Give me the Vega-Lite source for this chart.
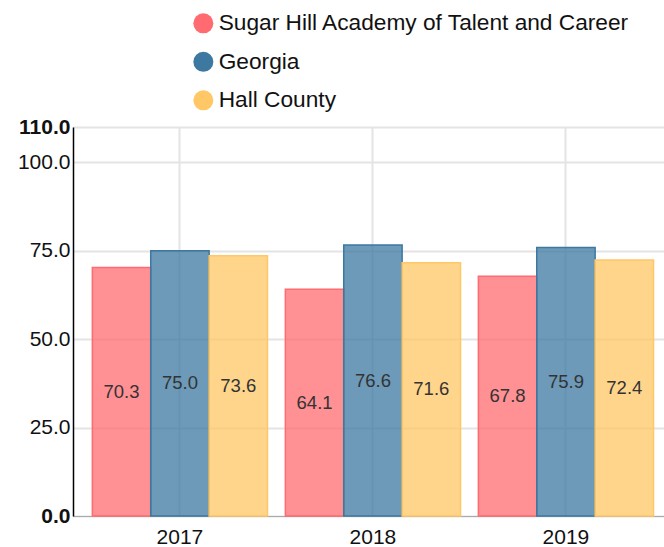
{
  "$schema": "https://vega.github.io/schema/vega-lite/v6.json",
  "width": 591,
  "height": 389,
  "autosize": {"type": "none"},
  "padding": {"left": 73, "top": 127, "right": 0, "bottom": 31},
  "config": {
    "font": "Liberation Sans",
    "view": {"stroke": null}
  },
  "data": {
    "values": [
      {"year": "2017", "group": "Sugar Hill Academy of Talent and Career", "value": 70.3},
      {"year": "2017", "group": "Georgia", "value": 75.0},
      {"year": "2017", "group": "Hall County", "value": 73.6},
      {"year": "2018", "group": "Sugar Hill Academy of Talent and Career", "value": 64.1},
      {"year": "2018", "group": "Georgia", "value": 76.6},
      {"year": "2018", "group": "Hall County", "value": 71.6},
      {"year": "2019", "group": "Sugar Hill Academy of Talent and Career", "value": 67.8},
      {"year": "2019", "group": "Georgia", "value": 75.9},
      {"year": "2019", "group": "Hall County", "value": 72.4}
    ]
  },
  "encoding": {
    "x": {
      "field": "year", "type": "nominal",
      "scale": {"paddingInner": 0.02, "paddingOuter": 0.041, "align": 0.78},
      "axis": {
        "title": null, "labelAngle": 0, "labelFontSize": 21, "labelColor": "#111",
        "labelPadding": 10, "ticks": false, "domainColor": "#aaa",
        "grid": true, "gridColor": "#e4e4e4", "gridWidth": 2, "bandPosition": 0.5
      }
    },
    "xOffset": {
      "field": "group", "type": "nominal",
      "sort": ["Sugar Hill Academy of Talent and Career", "Georgia", "Hall County"],
      "scale": {"paddingOuter": 0.12, "paddingInner": 0}
    }
  },
  "layer": [
    {
      "mark": {"type": "bar", "fillOpacity": 0.75, "strokeWidth": 1.5},
      "encoding": {
        "y": {
          "field": "value", "type": "quantitative",
          "scale": {"domain": [0, 110], "nice": false},
          "axis": {
            "title": null, "values": [0, 25, 50, 75, 100, 110], "format": ".1f",
            "labelFontSize": 21, "labelColor": "#111", "ticks": false, "labelPadding": 3,
            "labelFontWeight": {"condition": {"test": "datum.value == 0 || datum.value == 110", "value": "bold"}, "value": "normal"},
            "domainColor": "#000", "domainWidth": 1.5,
            "grid": true, "gridColor": "#e4e4e4", "gridWidth": 2
          }
        },
        "color": {
          "field": "group", "type": "nominal",
          "sort": ["Sugar Hill Academy of Talent and Career", "Georgia", "Hall County"],
          "scale": {"domain": ["Sugar Hill Academy of Talent and Career", "Georgia", "Hall County"], "range": ["#ff6b70", "#3c78a0", "#ffc766"]},
          "legend": {
            "title": null, "orient": "none", "legendX": 119, "legendY": -115,
            "symbolType": "circle", "symbolSize": 400, "symbolOpacity": 1, "symbolStrokeWidth": 0,
            "labelFontSize": 22.7, "labelColor": "#111", "rowPadding": 14.5, "labelLimit": 600, "labelOffset": 4
          }
        },
        "stroke": {
          "field": "group", "type": "nominal",
          "scale": {"domain": ["Sugar Hill Academy of Talent and Career", "Georgia", "Hall County"], "range": ["#ff6b70", "#3c78a0", "#ffc766"]},
          "legend": null
        }
      }
    },
    {
      "mark": {"type": "text", "fontSize": 18.5, "color": "#333", "baseline": "middle"},
      "encoding": {
        "y": {
          "field": "value", "type": "quantitative",
          "scale": {"domain": [0, 220], "nice": false},
          "axis": null
        },
        "text": {"field": "value", "type": "quantitative", "format": ".1f"}
      }
    }
  ],
  "resolve": {"scale": {"y": "independent"}}
}
